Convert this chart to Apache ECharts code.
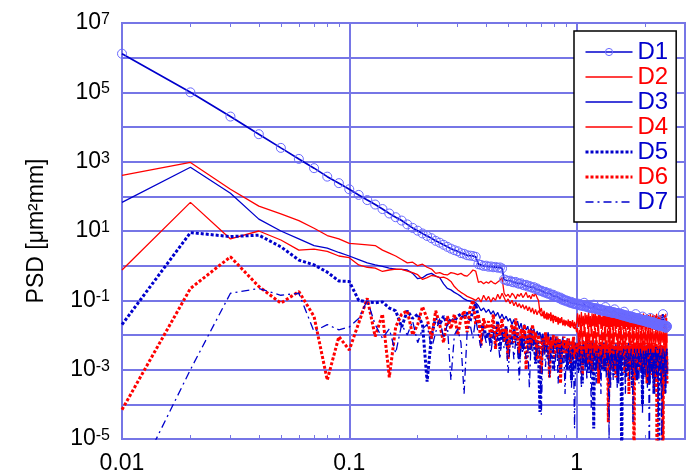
<!DOCTYPE html>
<html><head><meta charset="utf-8">
<script src="https://cdn.jsdelivr.net/npm/echarts@6/dist/echarts.min.js"></script>
<style>html,body{margin:0;padding:0;background:#fff}#c{width:689px;height:476px}</style>
</head><body><div id="c"></div>
<script>
const freq = [
0.01,0.02,0.03,0.04,0.05,0.06,0.07,0.08,0.09,0.10,
0.11,0.12,0.13,0.14,0.15,0.16,0.17,0.18,0.19,0.20,
0.21,0.22,0.23,0.24,0.25,0.26,0.27,0.28,0.29,0.30,
0.31,0.32,0.33,0.34,0.35,0.36,0.37,0.38,0.39,0.40,
0.41,0.42,0.43,0.44,0.45,0.46,0.47,0.48,0.49,0.50,
0.51,0.52,0.53,0.54,0.55,0.56,0.57,0.58,0.59,0.60,
0.61,0.62,0.63,0.64,0.65,0.66,0.67,0.68,0.69,0.70,
0.71,0.72,0.73,0.74,0.75,0.76,0.77,0.78,0.79,0.80,
0.81,0.82,0.83,0.84,0.85,0.86,0.87,0.88,0.89,0.90,
0.91,0.92,0.93,0.94,0.95,0.96,0.97,0.98,0.99,1.00,
1.01,1.02,1.03,1.04,1.05,1.06,1.07,1.08,1.09,1.10,
1.11,1.12,1.13,1.14,1.15,1.16,1.17,1.18,1.19,1.20,
1.21,1.22,1.23,1.24,1.25,1.26,1.27,1.28,1.29,1.30,
1.31,1.32,1.33,1.34,1.35,1.36,1.37,1.38,1.39,1.40,
1.41,1.42,1.43,1.44,1.45,1.46,1.47,1.48,1.49,1.50,
1.51,1.52,1.53,1.54,1.55,1.56,1.57,1.58,1.59,1.60,
1.61,1.62,1.63,1.64,1.65,1.66,1.67,1.68,1.69,1.70,
1.71,1.72,1.73,1.74,1.75,1.76,1.77,1.78,1.79,1.80,
1.81,1.82,1.83,1.84,1.85,1.86,1.87,1.88,1.89,1.90,
1.91,1.92,1.93,1.94,1.95,1.96,1.97,1.98,1.99,2.00,
2.01,2.02,2.03,2.04,2.05,2.06,2.07,2.08,2.09,2.10,
2.11,2.12,2.13,2.14,2.15,2.16,2.17,2.18,2.19,2.20,
2.21,2.22,2.23,2.24,2.25,2.26,2.27,2.28,2.29,2.30,
2.31,2.32,2.33,2.34,2.35,2.36,2.37,2.38,2.39,2.40,
2.41,2.42,2.43,2.44,2.45,2.46,2.47,2.48,2.49,2.50];

const D1 = [
1.3e6,1e5,2e4,6.2e3,2.5e3,1.2e3,650,370,240,160,
110,78,58,43,32,25,20,15.5,12.3,10.2,
8.5,7.2,6.2,5.2,4.6,4.0,3.5,3.1,2.8,2.6,
2.3,2.2,2.0,1.95,1.9,1.8,1.1,1.05,0.98,1.0,
0.93,0.95,0.9,0.92,0.87,0.89,0.83,0.4,0.38,0.36,
0.37,0.34,0.33,0.34,0.31,0.30,0.31,0.28,0.27,0.28,
0.25,0.26,0.24,0.23,0.24,0.21,0.22,0.20,0.19,0.19,
0.18,0.17,0.175,0.16,0.155,0.16,0.145,0.14,0.145,0.13,
0.125,0.13,0.12,0.115,0.12,0.105,0.11,0.1,0.098,0.1,
0.092,0.095,0.088,0.085,0.09,0.082,0.08,0.083,0.077,0.079,
0.076,0.08,0.072,0.075,0.07,0.074,0.068,0.085,0.067,0.069,
0.064,0.067,0.062,0.065,0.06,0.063,0.059,0.061,0.075,0.058,
0.06,0.056,0.058,0.054,0.056,0.053,0.055,0.051,0.054,0.05,
0.052,0.049,0.051,0.064,0.048,0.05,0.047,0.049,0.046,0.048,
0.045,0.047,0.044,0.046,0.043,0.045,0.055,0.044,0.042,0.043,
0.041,0.043,0.04,0.042,0.039,0.041,0.038,0.04,0.037,0.039,
0.036,0.047,0.037,0.035,0.037,0.034,0.036,0.034,0.035,0.033,
0.035,0.032,0.034,0.031,0.033,0.031,0.033,0.03,0.032,0.03,
0.031,0.04,0.03,0.029,0.031,0.028,0.03,0.028,0.029,0.027,
0.029,0.027,0.028,0.026,0.034,0.027,0.026,0.027,0.025,0.026,
0.025,0.027,0.024,0.026,0.024,0.025,0.023,0.025,0.023,0.024,
0.031,0.023,0.022,0.024,0.022,0.023,0.021,0.023,0.021,0.022,
0.02,0.022,0.02,0.021,0.02,0.021,0.019,0.021,0.019,0.02,
0.019,0.02,0.018,0.026,0.019,0.018,0.02,0.018,0.019,0.04,
0.018,0.019,0.017,0.019,0.017,0.018,0.016,0.018,0.017,0.018];

const D2 = [
400,950,160,52,31,20,12,7.4,5.9,4.4,
4.2,4.0,3.8,2.8,2.3,1.9,1.5,1.2,1.26,1.0,
1.1,0.9,0.8,0.6,0.63,0.56,0.54,0.63,0.6,0.55,
0.6,0.52,0.5,0.6,0.75,0.7,0.33,0.35,0.3,0.34,
0.31,0.36,0.32,0.3,0.34,0.38,0.45,0.16,0.13,0.15,
0.12,0.16,0.14,0.11,0.15,0.13,0.16,0.12,0.14,0.17,
0.12,0.14,0.11,0.15,0.13,0.16,0.12,0.1,0.045,0.06,
0.035,0.05,0.03,0.045,0.028,0.04,0.025,0.038,0.022,0.035,
0.024,0.032,0.02,0.03,0.022,0.033,0.019,0.028,0.018,0.026,
0.02,0.028,0.017,0.025,0.018,0.027,0.016,0.024,0.017,0.022,
0.042,0.017,0.039,0.014,0.046,0.018,0.036,0.013,0.043,0.02,
0.038,0.015,0.048,0.017,0.035,0.011,0.042,0.018,0.041,0.014,
0.045,0.017,0.036,0.013,0.039,0.02,0.046,0.015,0.034,0.014,
0.041,0.018,0.043,0.011,0.038,0.017,0.042,0.015,0.035,0.008,
0.039,0.017,0.045,0.014,0.036,0.018,0.041,0.013,0.042,0.015,
0.034,0.017,0.043,0.014,0.038,0.011,0.039,0.018,0.035,0.014,
0.042,0.015,0.036,0.013,0.041,0.017,0.032,0.014,0.043,0.015,
0.036,0.013,0.039,0.017,0.034,0.01,0.041,0.015,0.035,0.014,
0.042,0.017,0.034,0.013,0.038,0.015,0.039,0.011,0.035,0.017,
0.041,0.014,0.032,0.015,0.038,0.013,0.042,0.017,0.034,0.014,
0.036,0.015,0.039,0.013,0.034,0.017,0.038,0.011,0.035,0.015,
0.041,0.014,0.032,0.017,0.036,0.013,0.039,0.015,0.034,0.014,
0.038,0.017,0.035,0.013,0.041,0.015,0.034,0.014,0.036,0.017,
0.032,0.013,0.038,0.015,0.035,0.014,0.039,0.017,0.034,0.013,
0.036,0.015,0.038,0.014,0.035,0.017,0.041,0.014,0.031,0.006];

const D3 = [
67,690,123,22,10,5.9,3.8,3.2,2.4,1.9,
1.5,1.2,1.05,0.95,0.85,0.8,0.78,0.75,0.6,0.42,
0.45,0.55,0.6,0.5,0.45,0.3,0.22,0.2,0.17,0.15,
0.13,0.11,0.1,0.095,0.09,0.085,0.07,0.05,0.06,0.045,
0.055,0.04,0.05,0.035,0.045,0.03,0.04,0.028,0.035,0.025,
0.03,0.02,0.028,0.018,0.025,0.015,0.022,0.012,0.02,0.014,
0.018,0.01,0.016,0.012,0.015,0.008,0.013,0.01,0.012,0.007,
0.011,0.006,0.01,0.008,0.012,0.005,0.009,0.007,0.01,0.004,
0.009,0.006,0.008,0.003,0.007,0.005,0.009,0.004,0.006,0.005,
0.008,0.003,0.007,0.005,0.006,0.002,0.007,0.004,0.006,0.003,
0.006,0.003,0.008,0.002,0.005,0.004,0.007,0.0015,0.006,0.003,
0.005,0.007,0.002,0.006,0.004,0.0008,0.005,0.003,0.007,0.004,
0.002,0.006,0.003,0.005,0.001,0.004,0.006,0.002,0.005,0.003,
0.006,0.0015,0.004,0.005,0.002,0.006,0.003,0.004,0.0007,0.005,
0.003,0.006,0.002,0.004,0.005,0.001,0.004,0.003,0.006,0.002,
0.004,0.005,0.0015,0.006,0.003,0.004,0.0009,0.005,0.003,0.004,
0.006,0.002,0.005,0.003,0.004,0.0012,0.005,0.003,0.006,0.002,
0.004,0.005,0.001,0.004,0.003,0.005,0.002,0.004,0.0006,0.003,
0.005,0.002,0.004,0.003,0.005,0.0015,0.004,0.003,0.005,0.002,
0.003,0.005,0.001,0.004,0.003,0.0004,0.004,0.002,0.005,0.003,
0.004,0.0015,0.005,0.003,0.004,0.001,0.003,0.005,0.002,0.004,
0.003,0.0008,0.004,0.003,0.005,0.002,0.004,0.001,0.003,0.004,
0.002,0.004,0.0005,0.003,0.004,0.002,0.003,0.0001,0.002,0.004,
0.003,0.001,0.004,0.002,0.003,0.0003,0.002,0.004,0.001,0.003,
0.002,0.004,0.0015,0.003,0.0002,0.002,0.003,0.001,0.002,0.0005];

const D4 = [
0.75,67,5.9,10,5.5,2.8,3.0,2.6,1.9,1.7,
1.05,0.9,0.85,0.68,0.75,0.8,0.78,0.7,0.63,0.55,
0.4,0.45,0.52,0.5,0.45,0.47,0.42,0.35,0.25,0.2,
0.17,0.15,0.13,0.12,0.11,0.1,0.12,0.09,0.14,0.1,
0.13,0.09,0.12,0.1,0.15,0.11,0.16,0.12,0.09,0.11,
0.08,0.1,0.07,0.09,0.065,0.08,0.06,0.075,0.055,0.07,
0.05,0.065,0.045,0.06,0.04,0.055,0.038,0.05,0.043,0.035,
0.045,0.03,0.04,0.028,0.042,0.032,0.045,0.026,0.038,0.03,
0.035,0.024,0.033,0.022,0.03,0.025,0.028,0.02,0.026,0.022,
0.024,0.018,0.025,0.016,0.022,0.019,0.02,0.015,0.018,0.012,
0.016,0.006,0.014,0.008,0.02,0.005,0.013,0.009,0.017,0.004,
0.012,0.007,0.018,0.006,0.011,0.009,0.015,0.003,0.013,0.008,
0.016,0.005,0.012,0.009,0.019,0.006,0.01,0.008,0.014,0.004,
0.012,0.007,0.017,0.005,0.011,0.009,0.015,0.006,0.013,0.003,
0.016,0.008,0.011,0.006,0.018,0.005,0.012,0.009,0.014,0.007,
0.011,0.004,0.015,0.008,0.013,0.006,0.017,0.007,0.01,0.005,
0.014,0.008,0.012,0.003,0.016,0.007,0.011,0.009,0.013,0.006,
0.015,0.005,0.012,0.008,0.01,0.006,0.016,0.004,0.013,0.007,
0.011,0.008,0.015,0.005,0.012,0.007,0.014,0.006,0.01,0.008,
0.013,0.004,0.016,0.007,0.011,0.006,0.014,0.008,0.012,0.005,
0.015,0.007,0.01,0.006,0.013,0.005,0.016,0.008,0.011,0.004,
0.014,0.007,0.012,0.005,0.015,0.008,0.01,0.006,0.013,0.007,
0.011,0.005,0.014,0.008,0.012,0.006,0.015,0.007,0.01,0.005,
0.013,0.008,0.011,0.004,0.014,0.007,0.012,0.006,0.01,0.008,
0.013,0.005,0.012,0.007,0.011,0.004,0.014,0.006,0.01,0.003];

const D5 = [
0.02,9,6.9,7.6,3.5,1.45,1.05,0.65,0.36,0.35,
0.1,0.09,0.085,0.09,0.06,0.05,0.017,0.05,0.03,0.04,
0.02,4.5e-4,0.01,0.03,0.02,0.035,0.02,0.03,0.025,0.035,
0.04,0.03,0.045,0.025,0.05,0.08,0.03,0.015,0.02,0.008,
0.012,0.006,0.02,0.01,0.025,0.004,0.015,0.008,0.018,0.003,
0.01,0.005,0.015,0.007,0.012,0.002,0.009,0.004,0.011,0.006,
0.008,0.003,0.012,0.005,0.009,0.0015,0.007,0.004,6e-5,0.005,
0.009,0.003,0.008,0.005,0.002,0.007,0.003,0.006,0.001,0.005,
0.004,0.007,0.002,0.006,8e-4,0.005,0.003,0.006,0.002,0.004,
0.001,0.005,0.002,0.004,5e-4,0.003,0.005,0.001,0.004,0.002,
0.004,0.001,0.006,0.002,0.003,0.0004,0.005,0.002,0.004,0.0012,
0.003,0.005,0.0008,0.004,0.002,0.006,0.001,0.003,2e-5,0.004,
0.002,0.005,0.001,0.003,0.004,0.0006,0.005,0.002,0.003,0.001,
0.004,0.002,0.006,0.0009,0.003,0.004,0.0015,0.005,0.002,0.0003,
0.003,0.005,0.001,0.004,0.002,0.0007,0.004,0.003,0.005,0.0012,
0.003,0.0004,0.004,0.002,0.005,0.001,0.003,5e-7,0.002,0.004,
0.0015,0.005,0.002,0.003,0.0006,0.004,0.002,0.005,0.001,0.003,
0.004,0.0009,0.003,0.005,0.002,0.0003,0.004,0.002,0.003,0.001,
0.005,0.002,0.003,0.0005,0.004,0.002,0.005,0.0012,0.003,0.004,
0.001,0.003,0.005,0.002,0.0001,0.003,0.004,0.0015,0.005,0.002,
0.003,0.0007,0.004,0.002,0.005,0.001,0.003,0.004,0.0004,0.003,
0.005,0.0015,0.003,0.004,0.0009,0.003,0.005,0.002,0.0002,0.003,
0.004,0.001,0.003,0.005,0.002,0.0006,0.004,0.002,0.003,3e-7,
0.002,0.004,0.001,0.003,0.005,0.0008,0.003,0.002,0.004,0.0015,
0.003,0.005,0.001,0.004,0.0002,0.003,0.002,0.004,0.0009,0.002];

const D6 = [
7e-5,0.22,1.8,0.25,0.083,0.18,0.034,5e-4,0.009,0.0037,
0.022,0.115,0.009,0.04,6e-4,0.017,0.04,0.05,0.01,0.02,
0.066,0.03,0.008,0.05,0.02,0.006,0.035,0.015,0.04,0.01,
0.03,0.05,0.012,0.06,0.1,0.02,0.04,0.005,0.03,0.015,
0.025,0.008,0.04,0.004,0.02,0.01,0.03,0.006,0.015,0.002,
0.012,0.02,0.006,0.03,0.01,0.003,0.015,0.008,0.02,0.001,
0.009,0.015,0.004,0.02,0.007,0.012,0.002,0.01,0.005,0.0008,
0.008,0.003,0.012,0.005,0.009,0.0006,0.007,0.004,0.01,0.002,
0.006,0.009,0.003,0.008,0.0004,0.006,0.005,0.009,0.002,0.007,
0.003,0.008,0.005,0.0015,0.007,0.004,0.009,0.002,0.005,0.003,
0.006,0.002,0.008,0.003,0.005,0.0007,0.007,0.004,0.002,0.006,
0.003,0.008,0.0015,0.005,0.004,0.007,0.0009,0.005,0.003,0.006,
0.002,0.007,0.004,0.005,0.0004,0.006,0.003,0.008,0.002,0.005,
0.006,0.0012,0.005,0.003,0.007,0.002,0.005,3e-5,0.004,0.006,
0.002,0.005,0.007,0.001,0.004,0.006,0.003,0.005,0.0006,0.004,
0.006,0.002,0.005,0.004,0.007,0.0015,0.005,0.003,0.006,0.002,
0.004,0.007,0.0008,0.005,0.003,0.006,0.002,0.005,0.004,0.0002,
0.005,0.003,0.007,0.0015,0.004,0.006,0.002,0.005,1e-7,0.004,
0.006,0.003,0.005,0.001,0.007,0.004,0.002,0.006,0.003,0.005,
0.0009,0.004,0.006,0.002,0.005,0.003,0.007,0.0012,0.004,0.005,
0.002,0.006,0.003,0.0004,0.005,0.004,0.006,0.0015,0.003,0.005,
0.004,0.002,0.006,0.003,0.0007,0.005,0.004,0.006,0.002,0.004,
0.005,0.0003,0.004,0.006,0.002,2e-7,0.004,0.003,0.005,0.001,
0.004,0.006,0.002,0.005,0.003,0.0008,0.004,0.005,0.002,5e-8,
0.003,0.005,0.0015,0.004,0.006,0.002,0.004,0.001,0.003,0.0004];

const D7 = [
1e-7,0.001,0.16,0.22,0.14,0.16,0.0126,0.02,0.014,0.017,
0.03,0.1,0.02,0.008,0.015,0.003,0.02,0.01,0.025,0.006,
0.015,0.02,0.004,0.012,0.03,0.008,0.02,0.0005,0.01,0.015,
0.006,0.0002,0.012,0.02,0.008,0.03,0.01,0.004,0.015,0.006,
0.01,0.003,0.012,0.005,0.009,0.002,0.011,0.004,0.007,0.0008,
0.006,0.009,0.002,0.007,0.004,0.0005,0.008,0.003,0.006,0.002,
0.005,0.0003,0.006,0.003,0.007,0.0015,0.004,0.006,0.002,5e-5,
0.004,0.006,0.0012,0.005,0.003,0.0006,0.004,0.002,0.005,0.0009,
0.003,0.005,0.0004,0.004,0.002,0.005,0.0015,0.003,0.0002,0.004,
0.002,0.0045,0.001,0.003,0.0003,0.004,0.002,2e-5,0.003,0.0015,
0.003,0.0008,0.004,0.002,0.0003,0.003,0.0015,0.004,0.001,0.003,
0.0005,0.002,0.004,0.0012,0.003,8e-5,0.002,0.004,0.001,0.003,
0.002,0.0004,0.003,0.0015,0.004,0.001,0.0025,0.0002,0.003,0.002,
0.004,0.0009,0.002,0.003,0.0006,0.004,0.0015,0.003,1e-5,0.002,
0.003,0.001,0.004,0.002,0.0005,0.003,0.002,0.004,0.0012,0.0025,
0.0003,0.003,0.0015,0.004,0.001,0.002,0.0035,0.0007,0.003,0.002,
0.004,0.0012,0.0025,0.0002,0.003,0.002,0.004,0.0009,0.003,0.0015,
0.0005,0.003,0.002,0.004,0.001,0.0025,3e-5,0.003,0.0015,0.004,
0.001,0.003,0.0006,0.002,0.004,0.0012,0.003,0.0004,0.0025,0.002,
0.004,0.0008,0.003,0.0015,5e-5,0.002,0.004,0.001,0.003,0.0006,
0.0025,0.004,0.0012,0.003,0.0003,0.002,0.004,0.001,2e-7,0.003,
0.0015,0.004,0.0009,0.003,0.002,0.0005,0.0035,0.0012,0.003,0.0002,
0.002,0.004,0.001,0.003,0.0007,0.0025,0.004,0.0015,4e-5,0.003,
0.001,0.004,0.002,0.0004,0.003,0.0015,1e-7,0.003,0.001,0.004,
0.002,0.0006,0.003,0.0012,0.0035,0.001,0.0003,0.002,0.004,0.0008];

const seriesNames = ['D1','D2','D3','D4','D5','D6','D7'];
const xLabelValues = [0.01, 0.1, 1];
const xLabelTexts = ['0.01', '0.1', '1'];
const xMinorTicks = [0.02,0.03,0.04,0.05,0.06,0.07,0.08,0.09,0.2,0.3,0.4,0.5,0.6,0.7,0.8,0.9,2,3];
const yGridValues = [1e-5,1e-4,1e-3,1e-2,1e-1,1,10,100,1e3,1e4,1e5,1e6,1e7];
const yLabelValues = [1e-5,1e-3,1e-1,10,1e3,1e5,1e7];
const yLabelExps = ['-5','-3','-1','1','3','5','7'];

const BLUE = '#0000cc', RED = '#ff0000', GRIDC = '#7676e6';
const FONT = 'Liberation Sans, Arial, sans-serif';

const pairs = arr => freq.map((f, i) => [f, arr[i]]);

const chart = echarts.init(document.getElementById('c'), null, {renderer: 'canvas'});

function xAxisBase(extra) {
  return Object.assign({
    type: 'log', logBase: 10, min: 0.01, max: 3, gridIndex: 0,
    axisLine: {show: false}, splitLine: {show: false},
    axisLabel: {show: false}, axisTick: {show: false}
  }, extra);
}

const option = {
  animation: false,
  backgroundColor: '#fff',
  grid: {left: 122, top: 23, right: 4, bottom: 37, show: true, borderColor: GRIDC, borderWidth: 2, backgroundColor: 'transparent'},
  xAxis: [
    xAxisBase({position: 'bottom',
      axisTick: {show: false, customValues: xLabelValues},
      splitLine: {show: true, lineStyle: {color: GRIDC, width: 2}},
      axisLabel: {show: true, customValues: xLabelValues, margin: 13, fontSize: 23, fontFamily: FONT, color: '#000',
        formatter: v => { const i = xLabelValues.findIndex(t => Math.abs(t - v) / t < 1e-6); return i >= 0 ? xLabelTexts[i] : ''; }}
    }),
    xAxisBase({position: 'bottom', axisTick: {show: true, inside: true, length: 4, customValues: xMinorTicks, lineStyle: {color: GRIDC, width: 1}}}),
    xAxisBase({position: 'top', axisTick: {show: true, inside: true, length: 4, customValues: xMinorTicks, lineStyle: {color: GRIDC, width: 1}}})
  ],
  yAxis: {
    type: 'log', logBase: 10, min: 1e-5, max: 1e7,
    axisLine: {show: false},
    axisTick: {show: false, customValues: yGridValues},
    splitLine: {show: true, lineStyle: {color: GRIDC, width: 2}},
    axisLabel: {
      customValues: yLabelValues, margin: 12,
      formatter: v => { const i = yLabelValues.findIndex(t => Math.abs(t - v) / t < 1e-6); return i >= 0 ? '{b|10}{s|' + yLabelExps[i] + '}' : ''; },
      rich: {
        b: {fontSize: 23, fontFamily: FONT, color: '#000', verticalAlign: 'bottom', lineHeight: 23, padding: [6, 0, 0, 0]},
        s: {fontSize: 16, fontFamily: FONT, color: '#000', verticalAlign: 'top', lineHeight: 16}
      }
    },
    name: 'PSD [μm²mm]', nameLocation: 'middle', nameGap: 74,
    nameTextStyle: {fontSize: 23, fontFamily: FONT, color: '#000'}
  },
  legend: {
    orient: 'vertical', left: 574, top: 31, padding: [9, 8, 8, 10], itemGap: 1,
    itemWidth: 47, itemHeight: 9, backgroundColor: '#fff', borderColor: '#000', borderWidth: 1.5, borderRadius: 0,
    textStyle: {fontSize: 24, fontFamily: FONT, lineHeight: 24},
    data: [
      {name: 'D1', textStyle: {color: BLUE}, itemStyle: {borderWidth: 1}, lineStyle: {width: 1.5}},
      {name: 'D2', textStyle: {color: RED}, itemStyle: {opacity: 0}, lineStyle: {width: 1.5}},
      {name: 'D3', textStyle: {color: BLUE}, itemStyle: {opacity: 0}, lineStyle: {width: 1.5}},
      {name: 'D4', textStyle: {color: RED}, itemStyle: {opacity: 0}, lineStyle: {width: 1.5}},
      {name: 'D5', textStyle: {color: BLUE}, itemStyle: {opacity: 0}, lineStyle: {width: 3}},
      {name: 'D6', textStyle: {color: RED}, itemStyle: {opacity: 0}, lineStyle: {width: 3}},
      {name: 'D7', textStyle: {color: BLUE}, itemStyle: {opacity: 0}, lineStyle: {width: 1.3}}
    ]
  },
  series: [
    {name: 'D1', type: 'line', data: pairs(D1), symbol: 'circle', symbolSize: 9, showSymbol: true, z: 5,
      lineStyle: {color: BLUE, width: 1.7},
      itemStyle: {color: 'rgba(0,0,0,0)', borderColor: '#6a6aff', borderWidth: 1}},
    {name: 'D2', type: 'line', data: pairs(D2), symbol: 'none', color: RED, lineStyle: {color: RED, width: 1.3}},
    {name: 'D3', type: 'line', data: pairs(D3), symbol: 'none', color: BLUE, lineStyle: {color: BLUE, width: 1.3}},
    {name: 'D4', type: 'line', data: pairs(D4), symbol: 'none', color: RED, lineStyle: {color: RED, width: 1.3}},
    {name: 'D5', type: 'line', data: pairs(D5), symbol: 'none', color: BLUE, lineStyle: {color: BLUE, width: 3, type: [3, 2]}},
    {name: 'D6', type: 'line', data: pairs(D6), symbol: 'none', color: RED, lineStyle: {color: RED, width: 3, type: [3, 2]}},
    {name: 'D7', type: 'line', data: pairs(D7), symbol: 'none', color: BLUE, lineStyle: {color: BLUE, width: 1.3, type: [8, 4, 2, 4]}}
  ]
};
chart.setOption(option);
</script>
</body></html>
